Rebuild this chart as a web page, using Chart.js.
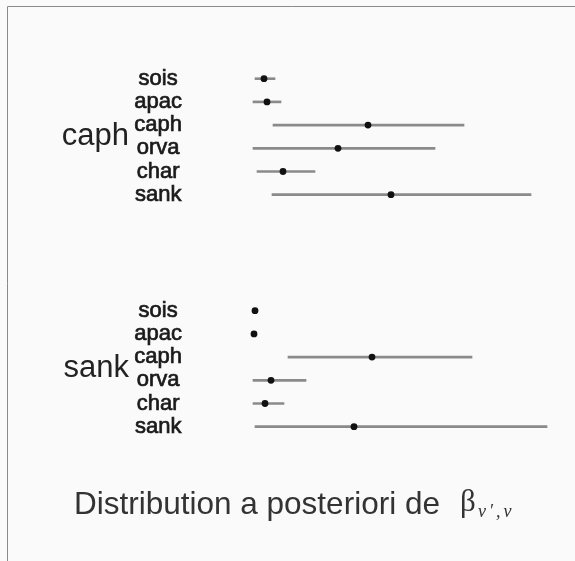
<!DOCTYPE html>
<html>
<head>
<meta charset="utf-8">
<script src="https://cdn.jsdelivr.net/npm/chart.js@4/dist/chart.umd.min.js"></script>
<style>
  html, body { margin: 0; padding: 0; background: #f9faf9; }
  #wrap { position: relative; width: 575px; height: 561px; }
</style>
</head>
<body>
<div id="wrap"><canvas id="c" width="575" height="561"></canvas></div>
<script>
// Posterior intervals of beta_{v',v}: one block per focal species (groups),
// one row per neighbouring species.
const groups  = ['caph', 'sank'];
const species = ['sois', 'apac', 'caph', 'orva', 'char', 'sank'];

const caphLower  = [0.02, 0.00, 0.20, 0.00, 0.04, 0.19];
const caphMedian = [0.11, 0.14, 1.15, 0.85, 0.30, 1.38];
const caphUpper  = [0.22, 0.28, 2.11, 1.82, 0.62, 2.78];

const sankLower  = [0.01, 0.00, 0.35, 0.00, 0.00, 0.02];
const sankMedian = [0.02, 0.01, 1.19, 0.18, 0.12, 1.01];
const sankUpper  = [0.03, 0.02, 2.19, 0.53, 0.31, 2.94];

const gapRows = 4;   // empty rows between the two blocks

const blocks = [
  { lower: caphLower, median: caphMedian, upper: caphUpper },
  { lower: sankLower, median: sankMedian, upper: sankUpper }
];

// Build the row table: species rows of each block, blank rows in between.
const rowLabels = [];
const intervals = [];
const medians = [];
blocks.forEach((b, gi) => {
  if (gi > 0) {
    for (let k = 0; k < gapRows; k++) { rowLabels.push(''); intervals.push(null); medians.push(null); }
  }
  species.forEach((s, i) => {
    rowLabels.push(s);
    intervals.push([b.lower[i], b.upper[i]]);
    medians.push(b.median[i]);
  });
});

const xMax = Math.max(...caphUpper, ...sankUpper);

const decor = {
  id: 'decor',
  beforeDraw(chart) {
    const ctx = chart.ctx;
    ctx.save();
    ctx.fillStyle = '#f9faf9';
    ctx.fillRect(0, 0, chart.width, chart.height);
    ctx.strokeStyle = '#8a8a8a';
    ctx.lineWidth = 1;
    ctx.beginPath();
    ctx.moveTo(7.5, chart.height);
    ctx.lineTo(7.5, 6.5);
    ctx.lineTo(chart.width, 6.5);
    ctx.stroke();
    ctx.restore();
  },
  afterDraw(chart) {
    const ctx = chart.ctx;
    const y = chart.scales.y;
    ctx.save();
    // block names, centred between the 3rd and 4th rows of each block
    ctx.fillStyle = '#222';
    ctx.font = '31px "Liberation Sans"';
    ctx.textAlign = 'right';
    ctx.textBaseline = 'alphabetic';
    groups.forEach((g, gi) => {
      const first = gi * (species.length + gapRows);
      const mid = (y.getPixelForValue(first + 2) + y.getPixelForValue(first + 3)) / 2;
      ctx.fillText(g, 129, mid + 8);
    });
    // caption: text, then beta with its subscript
    const base = 514;
    ctx.textAlign = 'left';
    ctx.fillStyle = '#333';
    ctx.font = '31.5px "Liberation Sans"';
    ctx.fillText('Distribution a posteriori de', 74, base);
    ctx.font = '31px "Liberation Serif"';
    ctx.fillText('β', 460, base - 3);
    ctx.font = 'italic 18px "Liberation Serif"';
    ctx.letterSpacing = '3px';
    ctx.fillText('ν\u2032,ν', 478, base + 3);
    ctx.restore();
  }
};

new Chart(document.getElementById('c'), {
  type: 'bar',
  data: {
    labels: rowLabels,
    datasets: [
      {
        type: 'line',
        label: 'median',
        indexAxis: 'y',
        data: medians,
        showLine: false,
        pointRadius: 3.4,
        pointHoverRadius: 3.4,
        pointBackgroundColor: '#111',
        pointBorderWidth: 0,
        clip: false,
        order: 0
      },
      {
        type: 'bar',
        label: 'interval',
        data: intervals,
        backgroundColor: '#8a8a8a',
        borderWidth: 0,
        barThickness: 2,
        clip: false,
        order: 1
      }
    ]
  },
  options: {
    responsive: false,
    animation: false,
    devicePixelRatio: 1,
    indexAxis: 'y',
    layout: { padding: { top: 67.1, bottom: 122.7, left: 0, right: 28 } },
    plugins: { legend: { display: false }, tooltip: { enabled: false }, title: { display: false } },
    scales: {
      x: { type: 'linear', display: false, min: 0, max: xMax },
      y: {
        type: 'category',
        offset: true,
        grid: { display: false, drawTicks: false },
        border: { display: false },
        ticks: {
          autoSkip: false,
          crossAlign: 'center',
          padding: 71,
          color: '#1a1a1a',
          textStrokeColor: '#1a1a1a',
          textStrokeWidth: 0.7,
          font: { family: 'Liberation Sans', size: 22 }
        },
        afterFit(scale) {
          scale.width = 253;
          scale.paddingTop = 0;
          scale.paddingBottom = 0;
        }
      }
    }
  },
  plugins: [decor]
});
</script>
</body>
</html>
